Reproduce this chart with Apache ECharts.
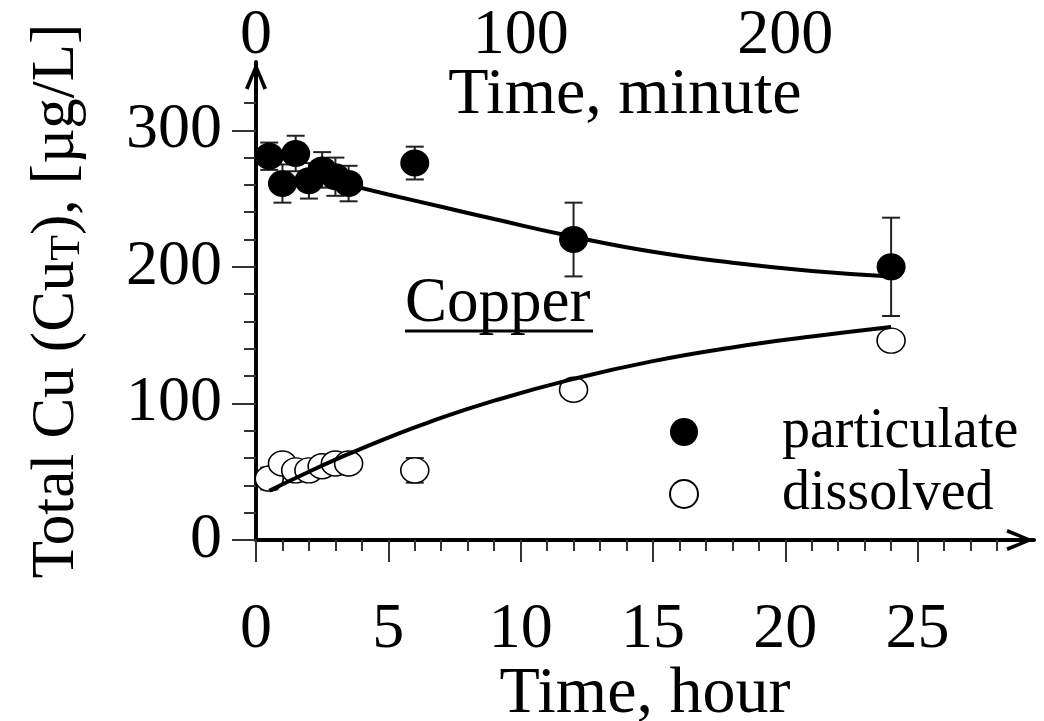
<!DOCTYPE html>
<html>
<head>
<meta charset="utf-8">
<title>Copper</title>
<script src="https://cdn.jsdelivr.net/npm/echarts@6/dist/echarts.min.js"></script>
<style>
html, body { margin: 0; padding: 0; background: #fff; }
#chart { width: 1044px; height: 721px; }
</style>
</head>
<body>
<div id="chart"></div>
<script>
// measured points (time in hours)
var partTime = [0.5, 1, 1.5, 2, 2.5, 3, 3.5, 6, 12, 24];
var partValue = [281, 261, 283, 263, 271, 266, 261, 276, 220, 200];
var partErr = [10, 14, 13, 13, 13, 14, 13, 12, 27, 36];

var dissTime = [0.5, 1, 1.5, 2, 2.5, 3, 3.5, 6, 12, 24];
var dissValue = [45, 56, 51, 51, 54, 56, 56, 51, 110, 146];
var dissErr = [8, 7, 7, 7, 7, 7, 7, 9, 5, 5];

// fitted curves
var partFitTime = [3.5, 5, 7, 9, 12, 15, 18, 21, 24];
var partFitValue = [260, 253, 244, 235, 222, 211, 203, 197, 193];
var dissFitTime = [0.5, 2, 3.5, 5, 6.5, 9, 12, 15, 18, 21, 24];
var dissFitValue = [36, 50, 63, 75, 86, 102, 118, 131, 141, 149, 156];

// ticks
var hourTicks = [0, 5, 10, 15, 20, 25];
var hourMinorTicks = [1, 2, 3, 4, 6, 7, 8, 9, 11, 12, 13, 14, 16, 17, 18, 19, 21, 22, 23, 24, 26, 27, 28];
var minuteTicks = [0, 100, 200];
var yTicks = [0, 100, 200, 300];
var yMinorTicks = [20, 40, 60, 80, 120, 140, 160, 180, 220, 240, 260, 280, 320];

var FONT = 'Liberation Serif';
var arrow = 'path://M11,0 L22,26 L18.5,27.5 L11,8.5 L3.5,27.5 L0,26 Z';

function zip3(a, b, c) {
    return a.map(function (v, i) { return [v, b[i], c[i]]; });
}
function zip2(a, b) {
    return a.map(function (v, i) { return [v, b[i]]; });
}

function errorBars(data) {
    return {
        type: 'custom',
        silent: true,
        data: data,
        encode: { x: 0, y: 1 },
        renderItem: function (params, api) {
            var x = api.value(0), y = api.value(1), e = api.value(2);
            var top = api.coord([x, y + e]);
            var bot = api.coord([x, y - e]);
            var w = 9;
            var st = { stroke: '#222', lineWidth: 2 };
            return {
                type: 'group',
                children: [
                    { type: 'line', shape: { x1: top[0], y1: top[1], x2: bot[0], y2: bot[1] }, style: st },
                    { type: 'line', shape: { x1: top[0] - w, y1: top[1], x2: top[0] + w, y2: top[1] }, style: st },
                    { type: 'line', shape: { x1: bot[0] - w, y1: bot[1], x2: bot[0] + w, y2: bot[1] }, style: st }
                ]
            };
        }
    };
}

var chart = echarts.init(document.getElementById('chart'));

var option = {
    animation: false,
    backgroundColor: '#fff',
    grid: { left: 256, right: 10, top: 62, bottom: 181, containLabel: false, outerBoundsMode: 'none' },
    legend: {
        data: ['particulate', 'dissolved'],
        orient: 'vertical',
        left: 664,
        top: 399,
        itemWidth: 30,
        itemHeight: 28,
        itemGap: 6,
        textStyle: { fontFamily: FONT, fontSize: 56, color: '#000', padding: [0, 0, 0, 78] }
    },
    xAxis: [
        {
            type: 'value', position: 'bottom', min: 0, max: 29.4, interval: 5,
            name: 'Time, hour', nameLocation: 'middle', nameGap: 122, nameMoveOverlap: false,
            nameTextStyle: { fontFamily: FONT, fontSize: 66, color: '#000' },
            axisLine: { lineStyle: { color: '#000', width: 4 }, symbol: ['none', arrow], symbolSize: [22, 28], symbolOffset: [0, -14] },
            axisTick: { customValues: hourTicks, length: 22, lineStyle: { color: '#333', width: 2 } },
            axisLabel: { customValues: hourTicks, margin: 58, fontFamily: FONT, fontSize: 64, color: '#000' },
            splitLine: { show: false }
        },
        {
            type: 'value', position: 'bottom', min: 0, max: 29.4,
            axisLine: { show: false },
            axisTick: { customValues: hourMinorTicks, length: 11, lineStyle: { color: '#333', width: 2 } },
            axisLabel: { show: false },
            splitLine: { show: false }
        },
        {
            type: 'value', position: 'top', min: 0, max: 294,
            name: 'Time, minute', nameLocation: 'middle', nameGap: -67, nameMoveOverlap: false,
            nameTextStyle: { fontFamily: FONT, fontSize: 66, color: '#000', padding: [0, 40, 0, 0] },
            axisLine: { show: false },
            axisTick: { show: false },
            axisLabel: { customValues: minuteTicks, margin: -6, fontFamily: FONT, fontSize: 64, color: '#000' },
            splitLine: { show: false }
        }
    ],
    yAxis: [
        {
            type: 'value', min: 0, max: 350, interval: 100,
            name: 'Total Cu (Cu{s|T}), [µg/L]', nameLocation: 'middle', nameGap: 167, nameRotate: 90, nameMoveOverlap: false,
            nameTextStyle: {
                fontFamily: FONT, fontSize: 61, color: '#000',
                rich: { s: { fontFamily: FONT, fontSize: 42, color: '#000', padding: [22, 0, 0, 0] } }
            },
            axisLine: { lineStyle: { color: '#000', width: 4 }, symbol: ['none', arrow], symbolSize: [22, 28], symbolOffset: [0, -14] },
            axisTick: { customValues: yTicks, length: 24, lineStyle: { color: '#333', width: 2 } },
            axisLabel: { customValues: yTicks, margin: 34, fontFamily: FONT, fontSize: 64, color: '#000' },
            splitLine: { show: false }
        },
        {
            type: 'value', min: 0, max: 350, position: 'left',
            axisLine: { show: false },
            axisTick: { customValues: yMinorTicks, length: 12, lineStyle: { color: '#333', width: 2 } },
            axisLabel: { show: false },
            splitLine: { show: false }
        }
    ],
    graphic: [
        { type: 'text', left: 405, top: 273, style: { text: 'Copper', fill: '#000', font: '63px "Liberation Serif"' } },
        { type: 'line', shape: { x1: 405, y1: 331, x2: 593, y2: 331 }, style: { stroke: '#000', lineWidth: 3 } }
    ],
    series: [
        errorBars(zip3(partTime, partValue, partErr)),
        errorBars(zip3(dissTime, dissValue, dissErr)),
        {
            name: 'particulate', type: 'scatter', symbol: 'circle', symbolSize: [29, 27],
            itemStyle: { color: '#000', opacity: 1 },
            data: zip2(partTime, partValue)
        },
        {
            name: 'dissolved', type: 'scatter', symbol: 'circle', symbolSize: [28, 25],
            itemStyle: { color: '#fff', borderColor: '#000', borderWidth: 1.5, opacity: 1 },
            data: zip2(dissTime, dissValue)
        },
        {
            type: 'line', smooth: true, showSymbol: false, silent: true,
            lineStyle: { color: '#000', width: 4 },
            data: zip2(partFitTime, partFitValue)
        },
        {
            type: 'line', smooth: true, showSymbol: false, silent: true,
            lineStyle: { color: '#000', width: 4 },
            data: zip2(dissFitTime, dissFitValue)
        }
    ]
};

chart.setOption(option);
</script>
</body>
</html>
